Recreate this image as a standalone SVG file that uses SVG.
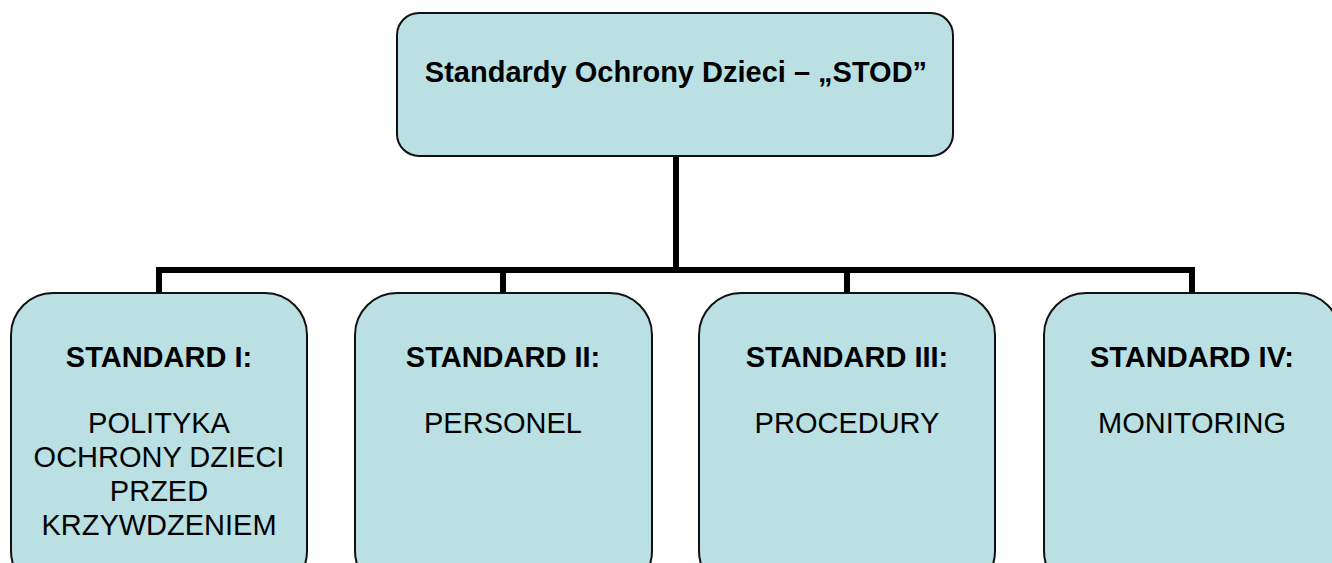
<svg xmlns="http://www.w3.org/2000/svg" width="1332" height="563" viewBox="0 0 1332 563">
<style>
.box{fill:#BAE0E4;stroke:#111;stroke-width:2}
.t{font-family:"Liberation Sans",Arial,sans-serif;font-size:29px;fill:#000;text-anchor:middle}
.b{font-weight:bold}
.c{fill:none;stroke:#000;stroke-width:6}
</style>
<rect width="1332" height="563" fill="#fff"/>
<g id="connectors">
<path class="c" d="M676 156 V270"/>
<path class="c" d="M159 293 V270 H1192 V293"/>
<path class="c" d="M503 270 V293"/>
<path class="c" d="M847 270 V293"/>
</g>
<g id="root">
<rect class="box" x="397" y="13" width="556" height="143" rx="22"/>
<text class="t b" x="676" y="82">Standardy Ochrony Dzieci – „STOD”</text>
</g>
<g id="standard1">
<rect class="box" x="11" y="293" width="296" height="300" rx="42"/>
<text class="t b" x="159" y="367">STANDARD I:</text>
<text class="t" x="159" y="433">POLITYKA</text>
<text class="t" x="159" y="467">OCHRONY DZIECI</text>
<text class="t" x="159" y="501">PRZED</text>
<text class="t" x="159" y="535">KRZYWDZENIEM</text>
</g>
<g id="standard2">
<rect class="box" x="355" y="293" width="297" height="300" rx="42"/>
<text class="t b" x="503" y="367">STANDARD II:</text>
<text class="t" x="503" y="433">PERSONEL</text>
</g>
<g id="standard3">
<rect class="box" x="699" y="293" width="296" height="300" rx="42"/>
<text class="t b" x="847" y="367">STANDARD III:</text>
<text class="t" x="847" y="433">PROCEDURY</text>
</g>
<g id="standard4">
<rect class="box" x="1044" y="293" width="296" height="300" rx="42"/>
<text class="t b" x="1192" y="367">STANDARD IV:</text>
<text class="t" x="1192" y="433">MONITORING</text>
</g>
</svg>
